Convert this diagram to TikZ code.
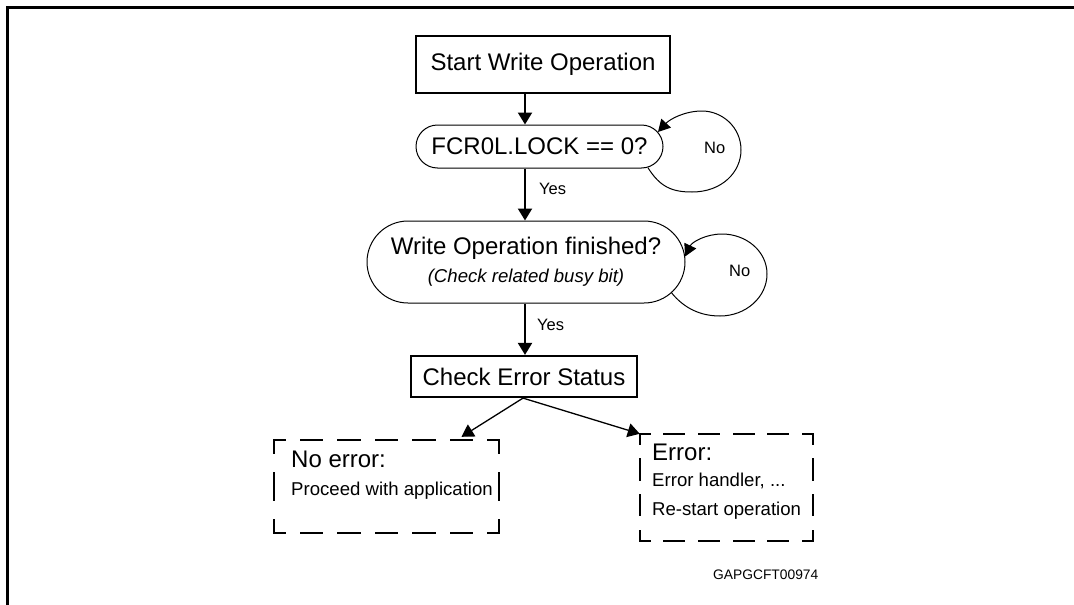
\documentclass[tikz,border=0pt]{standalone}
\usepackage{fontspec}
\setmainfont{Liberation Sans}
\usetikzlibrary{arrows.meta,shapes.misc,calc}
\newcommand\DSide[4]{%
  \pgfmathsetmacro\dsP{#3/#4}%
  \pgfmathsetmacro\dsD{0.56*\dsP}%
  \pgfmathsetmacro\dsG{\dsP-\dsD}%
  \pgfmathsetmacro\dsH{\dsD/2}%
  \draw[dashline, dash pattern=on \dsD pt off \dsG pt, dash phase=\dsH pt] #1 -- #2;}
\tikzset{
  box/.style={draw, line width=2.2pt, inner sep=0pt, font=\fontsize{24}{28}\selectfont},
  rbox/.style={draw, rounded rectangle, line width=1pt, inner sep=0pt, font=\fontsize{24}{28}\selectfont},
  hold/.style={inner sep=0pt},
  flow/.style={line width=2.2pt, -{Triangle[length=12pt,width=14pt]}},
  diag/.style={line width=1.3pt, -{Triangle[length=12pt,width=14pt]}},
  loopline/.style={line width=1pt, -{Triangle[length=12pt,width=13pt]}},
  dashline/.style={line width=2.5pt, line cap=rect},
  lbl/.style={anchor=base west, inner sep=0pt, font=\fontsize{16.5}{19}\selectfont},
  bigtxt/.style={anchor=base west, inner sep=0pt, font=\fontsize{24}{28}\selectfont},
  smalltxt/.style={anchor=base west, inner sep=0pt, font=\fontsize{18.6}{22}\selectfont},
  frame/.style={line width=2.8pt}
}
\begin{document}
\begin{tikzpicture}[x=1pt,y=-1pt]
\useasboundingbox (0,0) rectangle (1074,605);
% frame
\coordinate (fr1) at (1080,7.5);
\coordinate (fr2) at (7.8,7.5);
\coordinate (fr3) at (7.8,612);
\draw[frame] (fr1) -- (fr2) -- (fr3);

\coordinate (ax) at (525,0);
\coordinate (ax2) at (523,0);

\node[box, minimum width=254pt, minimum height=57pt] (start) at (543,64.5) {Start Write Operation};
\node[rbox, minimum width=247pt, minimum height=43pt] (fcr) at (539.5,146.5) {FCR0L.LOCK == 0?};
\node[rbox, minimum width=318pt, minimum height=82pt, align=center] (wo) at (526,262)
  {Write Operation finished?\\ \fontsize{18.6}{26.6}\selectfont\itshape (Check related busy bit)};
\node[box, minimum width=226pt, minimum height=41pt] (chk) at (524,376.5) {Check Error Status};
\node[hold, minimum width=225pt, minimum height=93pt] (ok) at (386.5,486.5) {};
\node[hold, minimum width=173pt, minimum height=107pt] (err) at (726.5,487.5) {};

% dashed boxes
\DSide{(ok.north west)}{(ok.north east)}{225}{6}
\DSide{(ok.south west)}{(ok.south east)}{225}{6}
\DSide{(ok.north west)}{(ok.south west)}{93}{2}
\DSide{(ok.north east)}{(ok.south east)}{93}{2}
\DSide{(err.north west)}{(err.north east)}{173}{5}
\DSide{(err.south west)}{(err.south east)}{173}{5}
\DSide{(err.north west)}{(err.south west)}{107}{3}
\DSide{(err.north east)}{(err.south east)}{107}{3}

\node[bigtxt] (t1) at (291,467) {No error:};
\node[smalltxt] (t2) at (291,495) {Proceed with application};
\node[bigtxt] (t3) at (652,460) {Error:};
\node[smalltxt] (t4) at (652,486.7) {Error handler, ...};
\node[smalltxt] (t5) at (652,515) {Re-start operation};

% flow arrows
\draw[flow] (start.south -| ax) -- (fcr.north -| ax);
\draw[flow] (fcr.south -| ax) -- (wo.north -| ax);
\draw[flow] (wo.south -| ax) -- (chk.north -| ax);
\draw[diag] (chk.south -| ax2) -- ($(ok.north)+(75,-3)$);
\draw[diag] (chk.south -| ax2) -- (err.north west);

% loops
\draw[loopline] (fcr.-11) .. controls (660,187) and (672,192) .. (692,192)
  .. controls (722,192) and (741,172) .. (741,150)
  .. controls (741,127) and (722,111) .. (702,111)
  .. controls (685,111) and (670,119) .. (fcr.7);
\draw[loopline] (wo.-12) .. controls (684,308) and (700,316) .. (720,316)
  .. controls (746,316) and (767,297) .. (767,274)
  .. controls (767,251) and (746,234) .. (722,234)
  .. controls (706,234) and (692,242) .. (wo.2.5);

\node[lbl] (y1) at (539,194.3) {Yes};
\node[lbl] (y2) at (537,330.7) {Yes};
\node[lbl] (n1) at (704,153.3) {No};
\node[lbl] (n2) at (729,276.7) {No};

\node[anchor=base west, inner sep=0pt, font=\fontsize{13.8}{16}\selectfont] (code) at (713,579) {GAPGCFT00974};
\end{tikzpicture}
\end{document}
